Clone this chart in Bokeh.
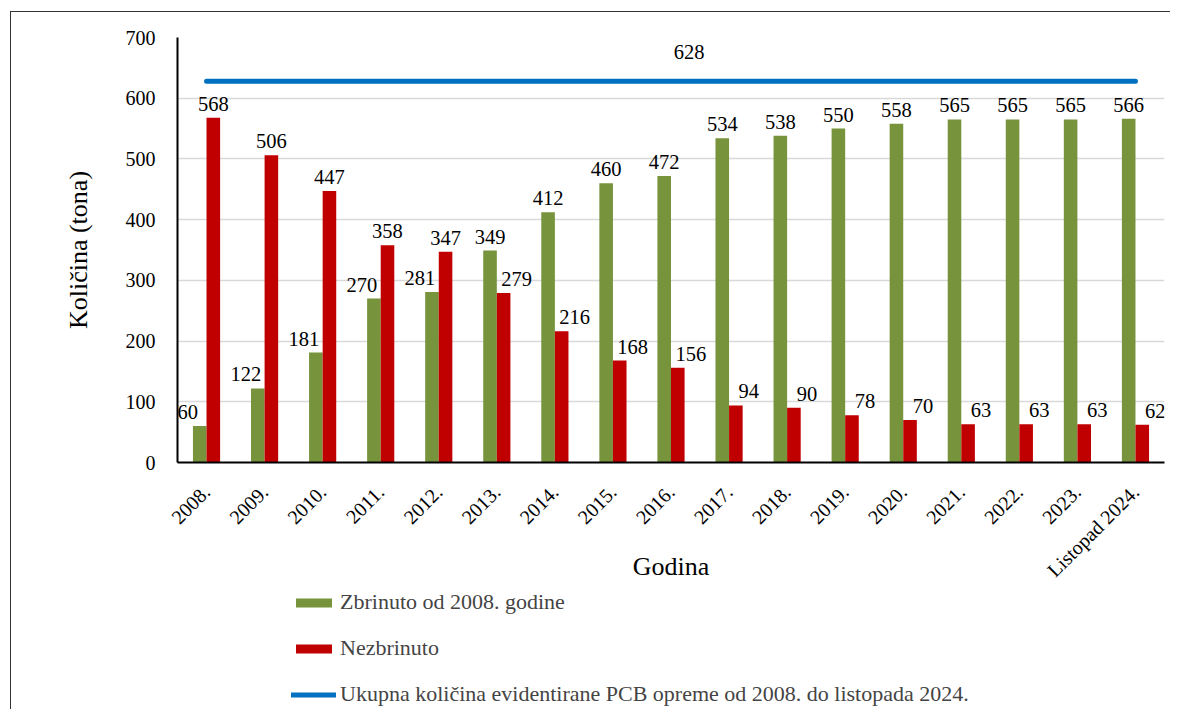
import math
from bokeh.plotting import figure
from bokeh.layouts import column
from bokeh.models import ColumnDataSource, Legend, LegendItem, FactorRange
from bokeh.transform import dodge
from bokeh.core.properties import value
from bokeh.embed import file_html
from bokeh.resources import INLINE

# ---------------- data ----------------
years = ["2008.", "2009.", "2010.", "2011.", "2012.", "2013.", "2014.", "2015.",
         "2016.", "2017.", "2018.", "2019.", "2020.", "2021.", "2022.", "2023.",
         "Listopad 2024."]
zbrinuto = [60, 122, 181, 270, 281, 349, 412, 460, 472, 534, 538, 550, 558, 565, 565, 565, 566]
nezbrinuto = [568, 506, 447, 358, 347, 279, 216, 168, 156, 94, 90, 78, 70, 63, 63, 63, 62]
ukupno = 628
y_ticks = [0, 100, 200, 300, 400, 500, 600, 700]
series_names = ["Zbrinuto od 2008. godine", "Nezbrinuto",
                "Ukupna količina evidentirane PCB opreme od 2008. do listopada 2024."]
x_title = "Godina"
y_title = "Količina (tona)"

FONT = "Liberation Serif"
GREEN = "#77933C"
RED = "#C00000"
BLUE = "#0070C0"

# label side-shift for the shorter bar of each pair
gdx = [0 if g >= r else -12 for g, r in zip(zbrinuto, nezbrinuto)]
rdx = [0 if r > g else 13 for g, r in zip(zbrinuto, nezbrinuto)]

src = ColumnDataSource(dict(
    cat=years, green=zbrinuto, red=nezbrinuto,
    gtxt=[str(v) for v in zbrinuto], rtxt=[str(v) for v in nezbrinuto],
    gdx=gdx, rdx=rdx,
))

W_LEFT, W_FRAME, W_RIGHT = 166, 987, 6

p = figure(x_range=FactorRange(factors=years, range_padding=0),
           y_range=(0, 700),
           frame_width=W_FRAME, frame_height=425,
           min_border_left=W_LEFT, min_border_right=W_RIGHT,
           min_border_top=25, min_border_bottom=0,
           output_backend="svg", toolbar_location=None)
p.outline_line_color = None
p.background_fill_color = "white"
p.border_fill_color = "white"

OFF = 0.117
BW = 0.234
bar_g = dict(fill_color=GREEN, line_color=None)
bar_r = dict(fill_color=RED, line_color=None)
line_kw = dict(line_color=BLUE, line_width=5, line_cap="round")

p.vbar(x=dodge("cat", -OFF, range=p.x_range), top="green", width=BW, source=src, **bar_g)
p.vbar(x=dodge("cat", OFF, range=p.x_range), top="red", width=BW, source=src, **bar_r)
p.line(x=years, y=[ukupno] * len(years), **line_kw)

lab_kw = dict(text_align="center", text_baseline="alphabetic",
              text_font=value(FONT), text_font_size="20.5px", text_color="black")
p.text(x=dodge("cat", -OFF, range=p.x_range), y="green", text="gtxt", x_offset="gdx",
       y_offset=-14, source=src, **lab_kw)
p.text(x=dodge("cat", OFF, range=p.x_range), y="red", text="rtxt", x_offset="rdx",
       y_offset=-14, source=src, **lab_kw)
p.text(x=[years[len(years) // 2]], y=[ukupno], text=[str(ukupno)], x_offset=18,
       y_offset=-29, **lab_kw)

for ax in (p.xaxis[0], p.yaxis[0]):
    ax.axis_line_color = "black"
    ax.axis_line_width = 2
    ax.major_tick_line_color = None
    ax.minor_tick_line_color = None
    ax.major_label_text_font = FONT
    ax.major_label_text_font_size = "20px"
    ax.major_label_text_color = "black"
    ax.axis_label_text_font = FONT
    ax.axis_label_text_font_size = "26px"
    ax.axis_label_text_font_style = "normal"
    ax.axis_label_text_color = "black"

p.yaxis.ticker = y_ticks
p.yaxis.major_label_standoff = 16
p.yaxis.axis_label = y_title
p.yaxis.axis_label_standoff = 30

p.xaxis.major_label_orientation = math.pi / 4
p.xaxis.major_label_standoff = 20
p.xaxis.axis_label = x_title
p.xaxis.axis_label_standoff = -40

p.xgrid.grid_line_color = None
p.ygrid.ticker = y_ticks
p.ygrid.grid_line_color = "#D9D9D9"
p.ygrid.grid_line_width = 1.5

# ---------------- legend strip (separate figure below) ----------------
LEG_H = 126
q = figure(x_range=FactorRange(factors=years, range_padding=0), y_range=(1000, 2000),
           width=W_LEFT + W_FRAME + W_RIGHT, height=LEG_H,
           min_border=0, x_axis_location=None, y_axis_location=None,
           output_backend="svg", toolbar_location=None)
q.grid.visible = False
q.outline_line_color = None
q.background_fill_color = "white"
q.border_fill_color = "white"
lg = q.vbar(x="cat", top="green", width=BW, source=src, **bar_g)
lr = q.vbar(x="cat", top="red", width=BW, source=src, **bar_r)
ll = q.line(x=years, y=[ukupno] * len(years), **line_kw)

legend = Legend(items=[LegendItem(label=series_names[0], renderers=[lg]),
                       LegendItem(label=series_names[1], renderers=[lr]),
                       LegendItem(label=series_names[2], renderers=[ll])],
                location=(114, 2), orientation="vertical",
                glyph_width=45, glyph_height=11, label_standoff=4,
                label_text_font=FONT, label_text_font_size="22px",
                label_height=22, spacing=20, padding=0, margin=0,
                border_line_color=None, background_fill_alpha=0)
q.add_layout(legend, "center")

layout = column(p, q, spacing=0)
layout.styles = {"border-left": "1px solid #333333", "border-top": "1px solid #333333",
                 "margin-left": "10px", "margin-top": "11px"}

open("out.html", "w").write(file_html(layout, INLINE))
